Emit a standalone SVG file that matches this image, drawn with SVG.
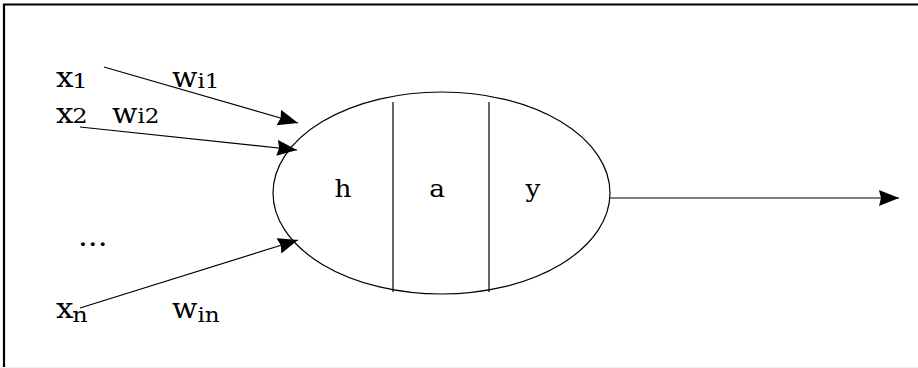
<svg xmlns="http://www.w3.org/2000/svg" width="918" height="368" viewBox="0 0 918 368">
<style>
.t{font-family:"DejaVu Serif","Liberation Serif",serif;font-size:27px;fill:#000}
.c{font-size:24px}
.s{font-size:21px}
.ln{stroke:#000;stroke-width:1.2;fill:none}
</style>
<defs>
<marker id="ah" markerWidth="22" markerHeight="18" refX="20" refY="8" orient="auto" markerUnits="userSpaceOnUse">
<path d="M0,0 L20,8 L0,16 L2,8 Z" fill="#000"/>
</marker>
</defs>
<rect x="0" y="0" width="918" height="368" fill="#fff"/>
<path d="M4,368 V4.5 H918" stroke="#000" stroke-width="2.2" fill="none"/>
<line x1="0" y1="367.5" x2="918" y2="367.5" stroke="#eee" stroke-width="1"/>
<g id="neuron">
<ellipse class="ln" cx="441.5" cy="193" rx="168.5" ry="101"/>
<line class="ln" x1="393" y1="102" x2="393" y2="292"/>
<line class="ln" x1="489" y1="102" x2="489" y2="292"/>
<text class="t c" transform="translate(343,197) scale(1.1,1)" text-anchor="middle">h</text>
<text class="t c" transform="translate(437,197) scale(1.1,1)" text-anchor="middle">a</text>
<text class="t c" transform="translate(533,197) scale(1.1,1)" text-anchor="middle">y</text>
</g>
<g id="inputs">
<text class="t" transform="translate(56,87) scale(1.15,1)">x<tspan class="s" dx="-1" dy="1">1</tspan></text>
<text class="t" transform="translate(56,123) scale(1.15,1)">x<tspan class="s" dx="-1" dy="0">2</tspan></text>
<text class="t" transform="translate(78,246) scale(1.15,1)">...</text>
<text class="t" transform="translate(56,318) scale(1.15,1)">x<tspan class="s" dx="-1" dy="4">n</tspan></text>
</g>
<g id="weights">
<text class="t" transform="translate(172,87) scale(1.1,1)">w<tspan class="s" dy="1">i1</tspan></text>
<text class="t" transform="translate(112,123) scale(1.1,1)">w<tspan class="s" dy="0">i2</tspan></text>
<text class="t" transform="translate(172,318) scale(1.1,1)">w<tspan class="s" dy="4">in</tspan></text>
</g>
<g id="connectors">
<line class="ln" x1="104" y1="67" x2="298" y2="123" marker-end="url(#ah)"/>
<line class="ln" x1="80" y1="127" x2="297" y2="150" marker-end="url(#ah)"/>
<line class="ln" x1="80" y1="308" x2="298" y2="240" marker-end="url(#ah)"/>
<line class="ln" x1="610" y1="198" x2="899" y2="198" marker-end="url(#ah)"/>
</g>
</svg>
